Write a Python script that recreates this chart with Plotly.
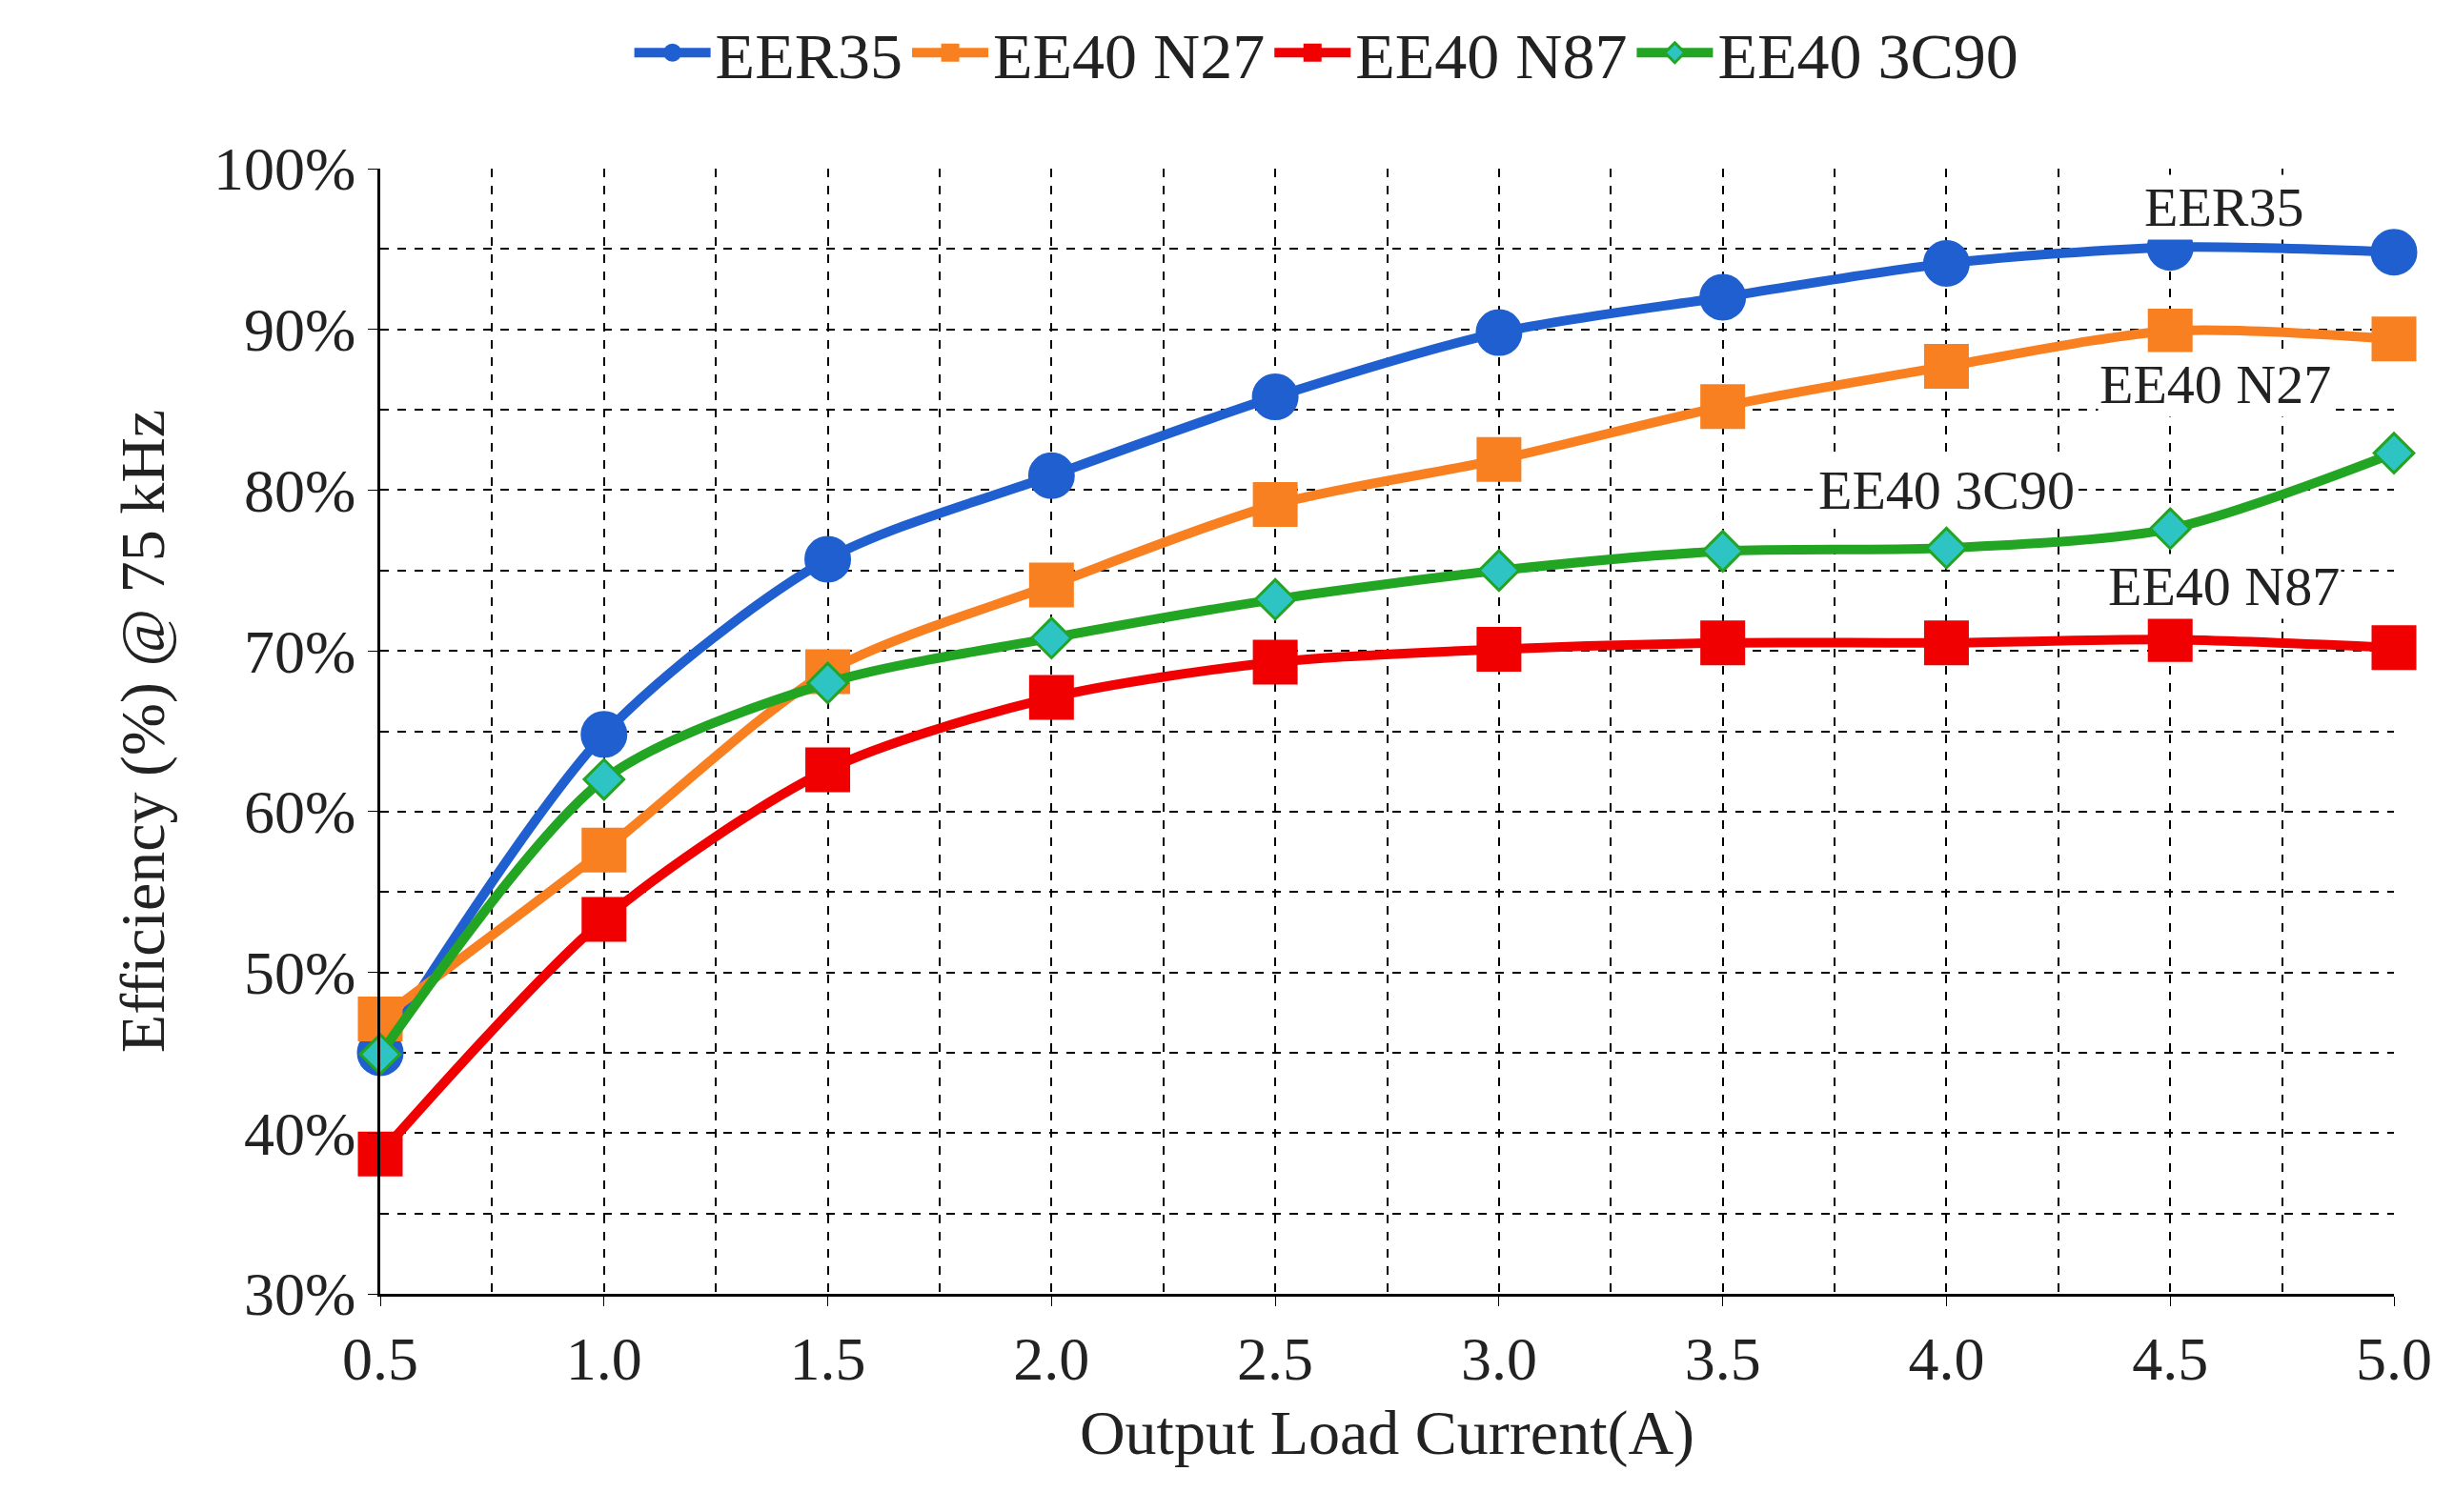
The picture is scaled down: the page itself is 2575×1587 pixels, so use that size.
import plotly.graph_objects as go

# Data
current = [0.5, 1.0, 1.5, 2.0, 2.5, 3.0, 3.5, 4.0, 4.5, 5.0]
eer35 = [45.0, 64.8, 75.7, 80.9, 85.8, 89.8, 92.0, 94.1, 95.1, 94.8]
ee40_n27 = [47.1, 57.6, 68.7, 74.1, 79.1, 81.9, 85.2, 87.7, 89.9, 89.4]
ee40_n87 = [38.7, 53.3, 62.6, 67.1, 69.3, 70.1, 70.5, 70.5, 70.7, 70.2]
ee40_3c90 = [44.9, 62.0, 68.0, 70.8, 73.2, 75.0, 76.2, 76.4, 77.6, 82.3]

font = "Liberation Serif"

fig = go.Figure()
series = [
    ("EER35", eer35, "#1F5FD0", "circle", 46, "#1F5FD0"),
    ("EE40 N27", ee40_n27, "#F98020", "square", 44, "#F98020"),
    ("EE40 N87", ee40_n87, "#F00000", "square", 44, "#F00000"),
    ("EE40 3C90", ee40_3c90, "#22A522", "diamond", 32, "#2EC4C4"),
]
for name, y, col, sym, size, fill in series:
    fig.add_trace(go.Scatter(
        x=current, y=y, name=name, mode="lines+markers",
        line=dict(color=col, width=10, shape="spline", smoothing=0.8),
        marker=dict(symbol=sym, size=size, color=fill, line=dict(color=col, width=3)),
        cliponaxis=False,
    ))

# Series labels
labels = [("EER35", 4.62, 97.6), ("EE40 N27", 4.6, 86.6), ("EE40 3C90", 4.0, 80.0), ("EE40 N87", 4.62, 74.0)]
for text, x, y in labels:
    fig.add_annotation(x=x, y=y, text=text, showarrow=False,
                       font=dict(family=font, size=58, color="#222"), bgcolor="white")

grid = dict(showgrid=True, gridcolor="black", gridwidth=2, griddash="dash")
fig.update_layout(
    width=2575, height=1587,
    paper_bgcolor="white", plot_bgcolor="white",
    margin=dict(l=391, r=71, t=169, b=237, autoexpand=False),
    font=dict(family=font, size=64, color="#222"),
    legend=dict(orientation="h", x=0.47, xanchor="center", yref="container", y=0.97, yanchor="middle",
                font=dict(family=font, size=68), itemwidth=80, traceorder="normal"),
    xaxis=dict(range=[0.5, 5.0], dtick=0.5, tickformat=".1f", **grid,
               minor=dict(dtick=0.25, showgrid=True, gridcolor="black", gridwidth=2, griddash="dash"),
               showline=True, linecolor="black", linewidth=3, zeroline=False,
               ticks="outside", ticklen=10, tickcolor="black",
               title=dict(text="Output Load Current(A)", font=dict(size=66), standoff=20)),
    yaxis=dict(range=[30, 100], dtick=10, ticksuffix="%", **grid,
               minor=dict(dtick=5, showgrid=True, gridcolor="black", gridwidth=2, griddash="dash"),
               showline=True, linecolor="black", linewidth=3, zeroline=False,
               ticks="outside", ticklen=10, tickcolor="black",
               title=dict(text="Efficiency (%) @ 75 kHz", font=dict(size=66), standoff=30)),
)

fig.write_html("out.html")
